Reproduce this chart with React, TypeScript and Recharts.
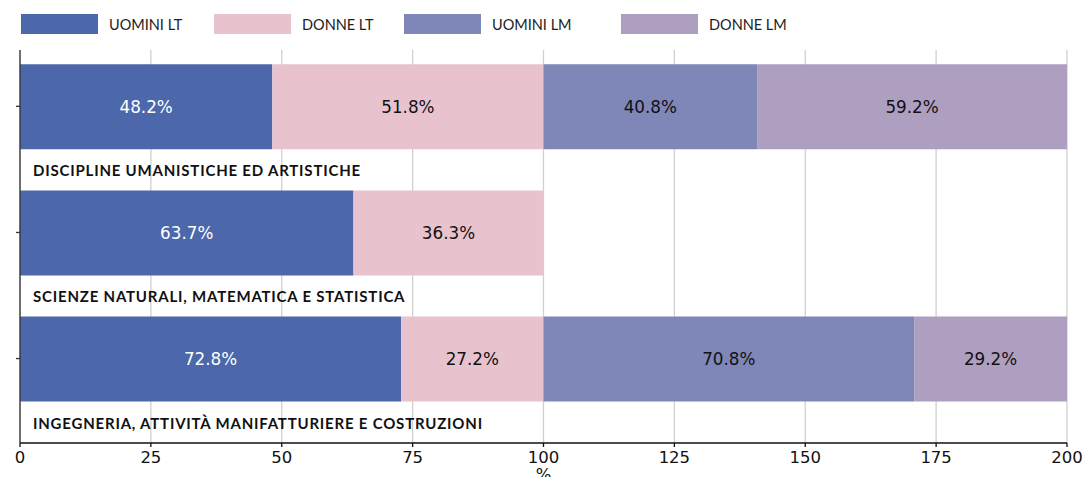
import React from 'react';
import { BarChart, Bar, XAxis, YAxis, CartesianGrid, LabelList } from 'recharts';

const CATEGORIES = [
  'DISCIPLINE UMANISTICHE ED ARTISTICHE',
  'SCIENZE NATURALI, MATEMATICA E STATISTICA',
  'INGEGNERIA, ATTIVITÀ MANIFATTURIERE E COSTRUZIONI',
];
const UOMINI_LT = [48.2, 63.7, 72.8];
const DONNE_LT = [51.8, 36.3, 27.2];
const UOMINI_LM: (number | null)[] = [40.8, null, 70.8];
const DONNE_LM: (number | null)[] = [59.2, null, 29.2];
const X_TICKS = [0, 25, 50, 75, 100, 125, 150, 175, 200];

const SERIES = [
  { key: 'uominiLT', name: 'UOMINI LT', color: '#4c68aa', text: '#ffffff', width: 193 },
  { key: 'donneLT', name: 'DONNE LT', color: '#e8c3ce', text: '#111111', width: 190 },
  { key: 'uominiLM', name: 'UOMINI LM', color: '#7f86b8', text: '#111111', width: 217 },
  { key: 'donneLM', name: 'DONNE LM', color: '#ae9fc0', text: '#111111', width: 160 },
];

const data = CATEGORIES.map((cat, i) => ({
  cat,
  uominiLT: UOMINI_LT[i],
  donneLT: DONNE_LT[i],
  uominiLM: UOMINI_LM[i],
  donneLM: DONNE_LM[i],
}));

const tickFont = '"DejaVu Sans", sans-serif';
const labelFont = 'Lato, "Noto Sans", sans-serif';

const CategoryTick = (props: any) => {
  const { y, payload } = props;
  return (
    <text
      x={25}
      y={y + 64}
      dominantBaseline="central"
      fontFamily={labelFont}
      fontWeight={700}
      fontSize={15}
      letterSpacing={0.8}
      fill="#111"
    >
      {payload.value}
    </text>
  );
};

// value label centred in each segment
const makeValueLabel = (color: string) => (props: any) => {
  const { x, y, width, height, value } = props;
  if (value == null || !width) return null;
  return (
    <text
      x={x + width / 2}
      y={y + height / 2}
      textAnchor="middle"
      dominantBaseline="central"
      fontFamily={tickFont}
      fontSize={16.8}
      fill={color}
    >
      {`${Number(value).toFixed(1)}%`}
    </text>
  );
};

const Legend = () => (
  <div style={{ position: 'absolute', top: 6, left: 13, display: 'flex', fontFamily: labelFont, fontSize: 14.5, color: '#222' }}>
    {SERIES.map((s) => (
      <div key={s.key} style={{ width: s.width, display: 'flex', alignItems: 'center', whiteSpace: 'nowrap' }}>
        <div style={{ width: 77, height: 20, background: s.color, marginRight: 11, flexShrink: 0 }} />
        <span>{s.name}</span>
      </div>
    ))}
  </div>
);

export default function App() {
  return (
    <div style={{ position: 'fixed', left: 8, top: 8, width: 1076, height: 469, overflow: 'hidden', background: '#fff' }}>
      <Legend />
      <BarChart
        width={1076}
        height={480}
        data={data}
        layout="vertical"
        margin={{ top: 42, right: 17, bottom: 5, left: 0 }}
      >
        <CartesianGrid horizontal={false} stroke="#d0d0d0" strokeWidth={1.3} />
        <XAxis
          type="number"
          domain={[0, 200]}
          ticks={X_TICKS}
          height={40}
          tickSize={4}
          tickMargin={4}
          stroke="#111"
          strokeWidth={1.3}
          tick={{ fontFamily: tickFont, fontSize: 16.5, fill: '#111' }}
          label={(p: any) => {
            const vb = p.viewBox;
            return (
              <text x={vb.x + vb.width / 2} y={vb.y + 37} textAnchor="middle" fontFamily={tickFont} fontSize={16.5} fill="#111">
                %
              </text>
            );
          }}
        />
        <XAxis
          xAxisId="top"
          orientation="top"
          type="number"
          domain={[0, 200]}
          height={0}
          tick={false}
          tickLine={false}
          stroke="#666"
          strokeWidth={1.3}
        />
        <YAxis
          type="category"
          dataKey="cat"
          width={12}
          tickSize={4}
          stroke="#333"
          strokeWidth={1.3}
          padding={{ top: -6.7, bottom: 21.4 }}
          tick={<CategoryTick />}
        />
        <YAxis
          yAxisId="right"
          orientation="right"
          type="category"
          dataKey="cat"
          width={0}
          tick={false}
          tickLine={false}
          stroke="#666"
          strokeWidth={1.3}
        />
        {SERIES.map((s) => (
          <Bar key={s.key} dataKey={s.key} name={s.name} stackId="a" fill={s.color} barSize={85} isAnimationActive={false}>
            <LabelList dataKey={s.key} content={makeValueLabel(s.text)} />
          </Bar>
        ))}
      </BarChart>
    </div>
  );
}
